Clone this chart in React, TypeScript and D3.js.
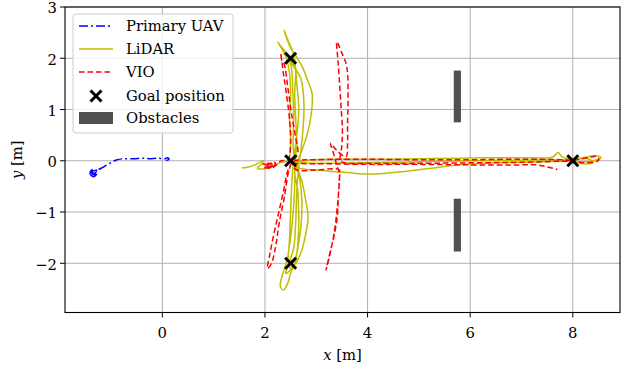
import React from "react";
import * as d3 from "d3";

const xTicks = [0, 2, 4, 6, 8];
const yTicks = [-2, -1, 0, 1, 2, 3];
const xDomain = [-1.897, 8.92];
const yDomain = [-2.96, 3.0];

const goals: [number, number][] = [[2.5, 2], [2.5, 0], [2.5, -2], [8, 0]];
// obstacles: [x0, x1, y0, y1]
const obstacles: [number, number, number, number][] = [
  [5.68, 5.82, 0.75, 1.76],
  [5.68, 5.82, -1.77, -0.74],
];

const uavPath: [number, number][] = [
  [-1.36, -0.3], [-1.41, -0.25], [-1.38, -0.18], [-1.3, -0.17], [-1.27, -0.24], [-1.33, -0.31],
  [-1.4, -0.27], [-1.37, -0.2], [-1.3, -0.21], [-1.32, -0.28], [-1.38, -0.23], [-1.34, -0.19],
  [-1.35, -0.25], [-1.32, -0.23], [-1.36, -0.22], [-1.33, -0.26],
  [-1.29, -0.22], [-1.35, -0.26], [-1.31, -0.19], [-1.2, -0.15], [-1.08, -0.08], [-0.97, -0.02],
  [-0.88, 0.02], [-0.75, 0.04], [-0.55, 0.04], [-0.4, 0.05], [-0.25, 0.04], [-0.1, 0.05],
  [0.05, 0.04], [0.1, 0.06], [0.13, 0.03], [0.08, 0.01], [0.12, 0.05],
];

const lidarPath: [number, number][] = [
  [1.55, -0.14], [1.68, -0.12], [1.8, -0.08], [1.9, -0.03], [1.97, 0.0], [1.92, -0.08], [1.85, -0.14],
  [1.95, -0.16], [2.08, -0.12], [2.2, -0.08], [2.32, -0.03], [2.45, 0.0],
  [2.5, 0.35], [2.48, 0.8], [2.5, 1.3], [2.48, 1.7], [2.42, 2.0], [2.32, 2.2], [2.25, 2.32], [2.3, 2.25],
  [2.42, 2.1], [2.5, 1.98], [2.58, 1.85], [2.62, 1.5], [2.66, 1.0], [2.62, 0.5], [2.58, 0.15], [2.55, -0.08],
  [2.52, -0.5], [2.5, -1.0], [2.48, -1.5], [2.45, -1.85], [2.38, -2.1], [2.32, -2.3], [2.3, -2.45],
  [2.36, -2.52], [2.44, -2.4], [2.5, -2.2], [2.58, -2.0], [2.64, -1.7], [2.7, -1.3], [2.72, -0.8],
  [2.68, -0.35], [2.62, -0.05],
  [2.9, 0.02], [3.5, 0.03], [4.2, 0.03], [5.0, 0.04], [5.8, 0.05], [6.5, 0.06], [7.2, 0.06], [7.6, 0.07],
  [7.72, 0.16], [7.78, 0.08], [7.95, 0.03], [8.2, 0.06], [8.45, 0.1], [8.55, 0.06], [8.4, 0.0],
  [8.15, -0.02], [7.9, -0.01],
  [7.4, -0.02], [6.8, -0.03], [6.3, -0.05], [5.8, -0.08], [5.2, -0.15], [4.6, -0.22], [4.06, -0.26],
  [3.6, -0.23], [3.1, -0.19], [2.75, -0.16], [2.62, -0.12],
  [2.72, 0.2], [2.82, 0.5], [2.9, 0.9], [2.92, 1.3], [2.82, 1.6], [2.72, 1.85], [2.6, 2.05], [2.5, 2.2],
  [2.42, 2.4], [2.37, 2.55], [2.45, 2.35], [2.55, 2.1], [2.6, 1.8], [2.58, 1.3], [2.6, 0.8], [2.62, 0.3],
  [2.6, 0.0],
  [2.72, -0.4], [2.8, -0.8], [2.84, -1.1], [2.78, -1.5], [2.7, -1.8], [2.6, -2.0], [2.5, -2.1],
  [2.45, -1.9], [2.5, -1.5], [2.55, -1.0], [2.58, -0.5], [2.58, -0.05],
  [2.55, 0.3], [2.56, 0.9], [2.54, 1.4], [2.52, 1.8], [2.46, 2.02], [2.52, 1.9], [2.7, 1.6],
  [2.76, 1.1], [2.74, 0.6], [2.7, 0.2], [2.66, -0.1], [2.62, -0.6], [2.6, -1.2], [2.56, -1.7],
  [2.45, -2.05], [2.4, -2.2], [2.52, -2.1], [2.62, -1.8], [2.66, -1.2], [2.64, -0.6], [2.6, -0.08],
  [3.0, -0.05], [4.0, -0.04], [5.0, -0.02], [6.0, 0.0], [7.0, 0.01], [7.8, 0.02], [8.0, 0.0],
  [8.2, -0.06], [8.4, -0.04], [8.3, 0.04], [8.05, 0.02],
];

const vioPath: [number, number][] = [
  [1.95, -0.06], [2.08, -0.1], [2.0, -0.14], [2.12, -0.04], [2.05, -0.12], [2.18, -0.08], [2.02, -0.05],
  [2.15, -0.14], [2.2, -0.04], [1.98, -0.1], [2.1, -0.15], [2.2, -0.1], [2.32, 0.0], [2.45, 0.02],
  [2.5, 0.4], [2.48, 0.8], [2.42, 1.3], [2.36, 1.7], [2.31, 2.1], [2.33, 1.95], [2.37, 1.9], [2.45, 1.4],
  [2.52, 0.9], [2.6, 0.45], [2.64, 0.15], [2.55, 0.0],
  [2.45, -0.18], [2.36, -0.6], [2.26, -1.05], [2.18, -1.4], [2.1, -1.8], [2.05, -2.1], [2.1, -2.05],
  [2.15, -1.94], [2.22, -1.6], [2.28, -1.2], [2.38, -0.7], [2.47, -0.18], [2.55, -0.02],
  [3.0, 0.02], [4.0, 0.03], [5.0, 0.02], [6.0, 0.02], [7.0, 0.03], [7.8, 0.02], [8.0, 0.01],
  [8.3, 0.06], [8.48, 0.08], [8.5, 0.01], [8.25, -0.04], [8.0, -0.01],
  [7.0, -0.03], [6.0, -0.04], [5.0, -0.05], [4.0, -0.05], [3.55, -0.04], [3.47, 0.0],
  [3.5, 0.3], [3.51, 0.6], [3.48, 1.1], [3.45, 1.58], [3.42, 2.0], [3.4, 2.32], [3.5, 2.1], [3.58, 1.9],
  [3.61, 1.71], [3.62, 1.2], [3.61, 0.7], [3.61, 0.34], [3.58, 0.08], [3.4, 0.2], [3.28, 0.34],
  [3.35, 0.1], [3.41, -0.12], [3.45, -0.25], [3.43, -0.7], [3.41, -1.09], [3.35, -1.45], [3.28, -1.74],
  [3.19, -2.13], [3.25, -1.9], [3.35, -1.4], [3.42, -0.8], [3.45, -0.35], [3.45, -0.18],
  [3.0, -0.18], [2.62, -0.18], [2.55, -0.08],
  [3.0, -0.06], [4.0, -0.07], [5.0, -0.07], [6.0, -0.08], [7.0, -0.08], [7.3, -0.08], [7.5, -0.12],
  [7.7, -0.17],
];

const legendLabels = ["Primary UAV", "LiDAR", "VIO", "Goal position", "Obstacles"];

const W = 621;
const H = 368;
const plot = { left: 65, right: 620, top: 7, bottom: 312.5 };
const FONT = "'DejaVu Serif', serif";
const FS = 14.8;

function XMark({ cx, cy, r, sw }: { cx: number; cy: number; r: number; sw: number }) {
  return (
    <g stroke="#000" strokeWidth={sw} strokeLinecap="butt">
      <line x1={cx - r} y1={cy - r} x2={cx + r} y2={cy + r} />
      <line x1={cx - r} y1={cy + r} x2={cx + r} y2={cy - r} />
    </g>
  );
}

export default function App() {
  const x = d3.scaleLinear().domain(xDomain).range([plot.left, plot.right]);
  const y = d3.scaleLinear().domain(yDomain).range([plot.bottom, plot.top]);
  const line = d3
    .line<[number, number]>()
    .x((d) => x(d[0]))
    .y((d) => y(d[1]))
    .curve(d3.curveCatmullRom.alpha(0.5));

  const fmt = (v: number) => (v < 0 ? "\u2212" + Math.abs(v) : String(v));

  const legendRows = [26, 49, 72, 96, 118];
  const lx0 = 79;
  const lx1 = 113;
  const ltext = 126;

  return (
    <svg
      width={W}
      height={H}
      style={{ position: "absolute", left: 0, top: 0, background: "#fff" }}
      fontFamily={FONT}
    >
      <defs>
        <clipPath id="plotclip">
          <rect x={plot.left} y={plot.top} width={plot.right - plot.left} height={plot.bottom - plot.top} />
        </clipPath>
      </defs>
      <rect x={0} y={0} width={W} height={H} fill="#fff" />
      {/* grid */}
      <g stroke="#b0b0b0" strokeWidth={1}>
        {xTicks.map((t) => (
          <line key={"gx" + t} x1={x(t)} x2={x(t)} y1={plot.top} y2={plot.bottom} />
        ))}
        {yTicks.map((t) => (
          <line key={"gy" + t} x1={plot.left} x2={plot.right} y1={y(t)} y2={y(t)} />
        ))}
      </g>
      <g clipPath="url(#plotclip)" fill="none" strokeLinejoin="round">
        <path d={line(uavPath) || ""} stroke="#0000ff" strokeWidth={1.5} strokeDasharray="9,3,2,3" />
        <path d={line(lidarPath) || ""} stroke="#bfbf00" strokeWidth={1.5} />
        <path d={line(vioPath) || ""} stroke="#ff0000" strokeWidth={1.5} strokeDasharray="5.5,3" />
      </g>
      {goals.map((g, i) => (
        <XMark key={"g" + i} cx={x(g[0])} cy={y(g[1])} r={5.5} sw={3} />
      ))}
      {obstacles.map((o, i) => (
        <rect
          key={"o" + i}
          x={x(o[0])}
          y={y(o[3])}
          width={x(o[1]) - x(o[0])}
          height={y(o[2]) - y(o[3])}
          fill="#505050"
        />
      ))}
      {/* frame */}
      <rect
        x={plot.left}
        y={plot.top}
        width={plot.right - plot.left}
        height={plot.bottom - plot.top}
        fill="none"
        stroke="#000"
        strokeWidth={1.1}
      />
      {/* ticks */}
      <g>
        {xTicks.map((t) => (
          <g key={"xt" + t}>
            <line x1={x(t)} x2={x(t)} y1={plot.bottom} y2={plot.bottom + 5} stroke="#000" strokeWidth={1} />
            <text x={x(t)} y={plot.bottom + 25} textAnchor="middle" fontSize={FS} fill="#000">
              {fmt(t)}
            </text>
          </g>
        ))}
        {yTicks.map((t) => (
          <g key={"yt" + t}>
            <line x1={plot.left - 5} x2={plot.left} y1={y(t)} y2={y(t)} stroke="#000" strokeWidth={1} />
            <text x={plot.left - 8} y={y(t) + 6.3} textAnchor="end" fontSize={FS} fill="#000">
              {fmt(t)}
            </text>
          </g>
        ))}
      </g>
      <text x={(plot.left + plot.right) / 2} y={360} textAnchor="middle" fontSize={FS} fill="#000">
        <tspan fontStyle="italic">x</tspan> [m]
      </text>
      <text
        transform={`translate(22, ${(plot.top + plot.bottom) / 2}) rotate(-90)`}
        textAnchor="middle"
        fontSize={FS}
        fill="#000"
      >
        <tspan fontStyle="italic">y</tspan> [m]
      </text>
      {/* legend */}
      <g>
        <rect x={73} y={14} width={160} height={119} rx={3} fill="#fff" fillOpacity={0.8} stroke="#cccccc" strokeWidth={1} />
        <line x1={lx0} x2={lx1} y1={legendRows[0]} y2={legendRows[0]} stroke="#0000ff" strokeWidth={1.5} strokeDasharray="9,3,2,3" />
        <line x1={lx0} x2={lx1} y1={legendRows[1]} y2={legendRows[1]} stroke="#bfbf00" strokeWidth={1.5} />
        <line x1={lx0} x2={lx1} y1={legendRows[2]} y2={legendRows[2]} stroke="#ff0000" strokeWidth={1.5} strokeDasharray="5.5,3" />
        <XMark cx={(lx0 + lx1) / 2} cy={legendRows[3]} r={5.5} sw={3} />
        <rect x={lx0} y={legendRows[4] - 6} width={lx1 - lx0} height={12} fill="#505050" />
        {legendLabels.map((l, i) => (
          <text key={l} x={ltext} y={legendRows[i] + 5} fontSize={FS} fill="#000">
            {l}
          </text>
        ))}
      </g>
    </svg>
  );
}
